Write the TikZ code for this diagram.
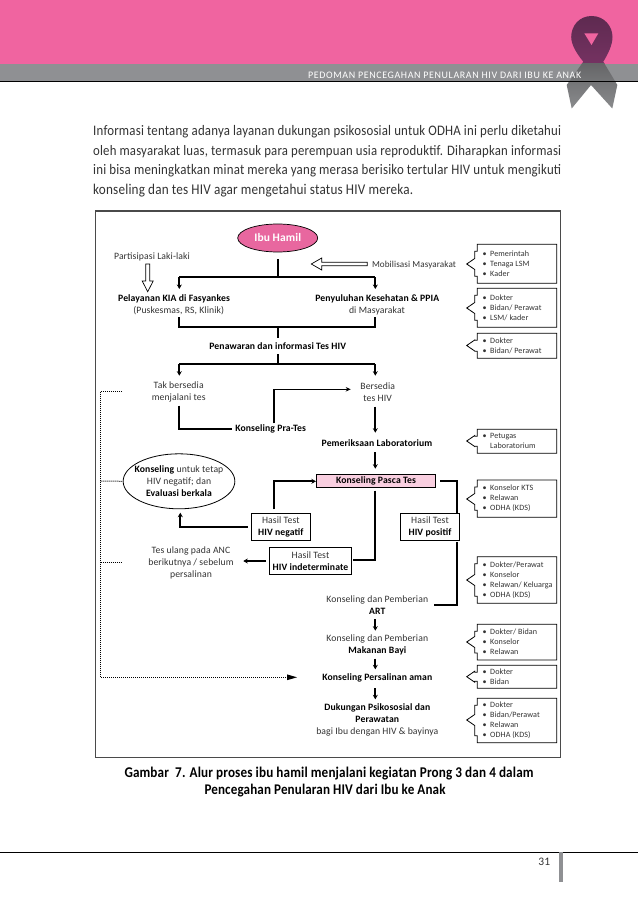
\documentclass[tikz,border=0pt]{standalone}
\usepackage{fontspec}
\usepackage{graphicx}
\setmainfont{Carlito}[LetterSpace=1]
\newfontfamily\parafont{Carlito}[LetterSpace=1.5]
\usetikzlibrary{arrows.meta,shapes.geometric,calc}
\definecolor{ribpink}{HTML}{F064A0}
\definecolor{bargray}{HTML}{8F9093}
\definecolor{ink}{HTML}{333333}
\definecolor{ellpink}{HTML}{E8679F}
\definecolor{boxpink}{HTML}{F9CFE0}
\definecolor{framegray}{HTML}{4A4A4A}
\definecolor{ribA}{HTML}{5E2A50}
\definecolor{ribB}{HTML}{8A3A72}
\definecolor{ribC}{HTML}{3F3F41}
\definecolor{ribD}{HTML}{8A8B8D}
\newcommand{\lab}{\fontsize{9.7}{12}\selectfont}
\newcommand{\side}{\fontsize{8.1}{10}\selectfont}
\newcommand{\fitline}[2]{\scalebox{1}[1.13]{\resizebox{#1}{!}{#2}}}
\tikzset{
  x=1pt,y=-1pt,
  txt/.style={inner sep=0pt,align=center,text=ink,font=\lab},
  btxt/.style={txt,text=black,font=\lab\bfseries},
  conn/.style={line width=1.9pt,draw=black},
  arr/.style={conn,-{Stealth[length=4.5pt,width=5pt]}},
  thin arr/.style={line width=1.6pt,draw=black,-{Stealth[length=5pt,width=4.5pt]}},
  hollow/.style={draw=black,line width=.7pt,fill=white},
  dots/.style={draw=black,line width=1pt,dash pattern=on 1pt off 1pt},
  resbox/.style={draw=black,line width=.8pt,fill=white,inner sep=0pt,align=center,font=\lab},
  sidetxt/.style={inner sep=0pt,align=left,text=ink,font=\side,anchor=west},
  paraline/.style={anchor=west,inner sep=0pt,text=ink},
}
% name, top, bottom, tip y, text
\newcommand{\sidebox}[5]{%
  \draw[black,line width=.8pt,fill=white]
    (556.7,#2) -- (477.3,#2) -- (477.3,#2+7) -- (474.7,#2+7) -- (474.7,#4-5.5) -- (466.7,#4)
    -- (474.7,#4+5.5) -- (474.7,#3-7) -- (477.3,#3-7) -- (477.3,#3) -- (556.7,#3) -- cycle;
  \node[sidetxt] (#1) at (482.5,{(#2+#3)/2}) {#5};
}
\newcommand{\bl}{\makebox[7.5pt][l]{•}}
\begin{document}
\begin{tikzpicture}
\useasboundingbox (0,0) rectangle (638,901);
\fill[white] (0,0) rectangle (638,901);
% header
\fill[ribpink] (0,0) rectangle (638,64);
\fill[bargray] (0,64) rectangle (638,81);
% ribbon
\def\ribbonpath{(591.7,16) .. controls (579,16) and (571.2,26) .. (571.2,37)
    .. controls (571.2,45) and (577,54) .. (583.3,61.7)
    -- (566.7,85) -- (571.7,108.5) -- (591,85) -- (612.3,108.5) -- (617.3,85) -- (603.3,61.7)
    .. controls (608,54) and (612.5,45) .. (612.5,37)
    .. controls (612.5,26) and (604,16) .. (591.7,16) -- cycle}
\begin{scope}
  \clip (550,0) rectangle (630,64);
  \shade[top color=ribA,bottom color=ribB] \ribbonpath;
\end{scope}
\begin{scope}
  \clip (550,64) rectangle (630,120);
  \shade[top color=ribC,bottom color=ribD] \ribbonpath;
\end{scope}
\fill[ribpink] (584.3,33.3) -- (598.3,33.3) -- (591.5,45) -- cycle;
\draw[black,line width=.8pt] (0,81.7) -- (638,81.7);
\node[anchor=west,inner sep=0pt,text=white] (headtxt) at (308,75) {\resizebox{273pt}{!}{\fontsize{9.5}{10}\selectfont\addfontfeatures{LetterSpace=6}PEDOMAN PENCEGAHAN PENULARAN HIV DARI IBU KE ANAK}};
% paragraph
\node[paraline] (p1) at (93,132) {\fitline{468pt}{\fontsize{13}{15}\parafont\selectfont Informasi tentang adanya layanan dukungan psikososial untuk ODHA ini perlu diketahui}};
\node[paraline] (p2) at (93,151.3) {\fitline{468pt}{\fontsize{13}{15}\parafont\selectfont oleh masyarakat luas, termasuk para perempuan usia reproduktif. Diharapkan informasi}};
\node[paraline] (p3) at (93,170.8) {\fitline{468pt}{\fontsize{13}{15}\parafont\selectfont ini bisa meningkatkan minat mereka yang merasa berisiko tertular HIV untuk mengikuti}};
\node[paraline] (p4) at (93,190.2) {\fitline{320pt}{\fontsize{13}{15}\parafont\selectfont konseling dan tes HIV agar mengetahui status HIV mereka.}};
% frame
\draw[framegray,line width=1.2pt] (95.7,211) rectangle (560.7,757.7);
% main nodes
\node[ellipse,draw=black,line width=.7pt,fill=ellpink,minimum width=80pt,minimum height=28pt,inner sep=0pt,text=white,font=\fontsize{11.5}{12}\selectfont\bfseries] (ibu) at (277.7,238) {Ibu Hamil};
\node[txt] (partisipasi) at (152,256.7) {Partisipasi Laki-laki};
\node[txt] (mobilisasi) at (414,265) {\resizebox{84pt}{!}{Mobilisasi Masyarakat}};
\node[btxt] (pelayanan) at (174,298.7) {Pelayanan KIA di Fasyankes};
\node[txt] (puskesmas) at (178.7,311) {(Puskesmas, RS, Klinik)};
\node[btxt] (penyuluhan) at (377.3,298.7) {Penyuluhan Kesehatan \& PPIA};
\node[txt] (dimas) at (377,311) {di Masyarakat};
\node[btxt] (penawaran) at (277.7,345.7) {Penawaran dan informasi Tes HIV};
\node[txt] (tak) at (178.7,391.7) {Tak bersedia\\menjalani tes};
\node[txt] (bersedia) at (377.7,391.7) {Bersedia\\tes HIV};
\node[btxt] (prates) at (270.7,429.3) {Konseling Pra-Tes};
\node[btxt] (lab) at (377,442.7) {Pemeriksaan Laboratorium};
\node[draw=black,line width=.8pt,fill=boxpink,minimum width=119.4pt,minimum height=13.4pt,inner sep=0pt,font=\lab\bfseries] (pasca) at (376,481) {Konseling Pasca Tes};
\node[ellipse,draw=black,line width=.8pt,fill=white,minimum width=111.7pt,minimum height=55pt,inner sep=0pt] (evaluasi) at (179,481.3) {};
\node[txt] (evaluasitxt) at (evaluasi.center) {\textcolor{black}{\bfseries Konseling} untuk tetap\\HIV negatif; dan\\\textcolor{black}{\bfseries Evaluasi berkala}};
\node[resbox,minimum width=59pt,minimum height=27pt] (neg) at (280.8,526.8) {\textcolor{ink}{Hasil Test}\\\bfseries HIV negatif};
\node[resbox,minimum width=59.4pt,minimum height=27pt] (pos) at (430,526.8) {\textcolor{ink}{Hasil Test}\\\bfseries HIV positif};
\node[resbox,minimum width=82.4pt,minimum height=27.4pt] (ind) at (310.5,561) {\textcolor{ink}{Hasil Test}\\\bfseries HIV indeterminate};
\node[txt] (ulang) at (191,562.7) {Tes ulang pada ANC\\berikutnya / sebelum\\persalinan};
\node[txt] (art) at (377.3,605.2) {Konseling dan Pemberian\\\textcolor{black}{\bfseries ART}};
\node[txt] (makanan) at (377.3,644.8) {Konseling dan Pemberian\\\textcolor{black}{\bfseries Makanan Bayi}};
\node[btxt] (persalinan) at (377.3,677.7) {Konseling Persalinan aman};
\node[txt] (dukungan) at (377.3,720.2) {\textcolor{black}{\bfseries Dukungan Psikososial dan}\\\textcolor{black}{\bfseries Perawatan}\\bagi Ibu dengan HIV \& bayinya};
% junctions
\coordinate (j1L) at (179.3,277); \coordinate (j1M) at (277.7,277); \coordinate (j1R) at (375.3,277);
\coordinate (e1L) at (179.3,289); \coordinate (e1R) at (375.3,289);
\coordinate (s0) at (277.7,259.3);
\coordinate (j2aL) at (179.3,317.3); \coordinate (j2bL) at (179.3,327.3); \coordinate (j2M) at (277.7,327.3);
\coordinate (j2aR) at (375.3,317.3); \coordinate (j2bR) at (375.3,327.3);
\coordinate (j2e) at (277.7,337.7); \coordinate (j3s) at (277.7,354);
\coordinate (j3M) at (277.7,364); \coordinate (j3L) at (179.3,364); \coordinate (j3R) at (375.3,364);
\coordinate (e3L) at (179.3,375.7); \coordinate (e3R) at (375.3,375.7);
\coordinate (c0) at (179.3,405.7);
\coordinate (c1) at (179.3,429.3);
\coordinate (c1e) at (231.7,429.3);
\coordinate (c2s) at (273.7,423.3);
\coordinate (c2) at (273.7,389.3);
\coordinate (c2e) at (350.7,389.3);
\coordinate (c2f) at (375.3,406.7);
\coordinate (c2g) at (375.3,432.7);
\coordinate (c2h) at (375.3,452);
\coordinate (c2i) at (375.3,468.7);
\coordinate (c3s) at (273.7,509.3);
\coordinate (c3) at (273.7,481.3);
\coordinate (c4) at (180.3,526.7);
\coordinate (c4e) at (180.3,512.7);
\coordinate (c4s) at (247.7,526.7);
\coordinate (c5s) at (375.3,490.7);
\coordinate (c5) at (375.3,560);
\coordinate (c5e) at (353.3,560);
\coordinate (c6s) at (440,481.3);
\coordinate (c6) at (456.7,481.3);
\coordinate (c6e) at (456.7,512.7);
\coordinate (c7s) at (456.7,542.3);
\coordinate (c7) at (456.7,605);
\coordinate (c7e) at (434.3,605);
\coordinate (u1) at (266,561); \coordinate (u2) at (243.3,561);
\coordinate (m1) at (375.3,619.3); \coordinate (m2) at (375.3,630.7);
\coordinate (m3) at (375.3,658.7); \coordinate (m4) at (375.3,669.3);
\coordinate (m5) at (375.3,688.3); \coordinate (m6) at (375.3,699.3);
% connectors
\draw[conn] (s0) -- (j1M);
\draw[conn] (j1L) -- (j1R);
\draw[arr] (j1L) -- (e1L);
\draw[arr] (j1R) -- (e1R);
\draw[conn] (j2aL) -- (j2bL) -- (j2bR) -- (j2aR);
\draw[conn] (j2M) -- (j2e);
\draw[conn] (j3s) -- (j3M);
\draw[conn] (j3L) -- (j3R);
\draw[arr] (j3L) -- (e3L);
\draw[arr] (j3R) -- (e3R);
\draw[conn] (c0) -- (c1) -- (c1e);
\draw[thin arr] (c2s) -- (c2) -- (c2e);
\draw[arr] (c2f) -- (c2g);
\draw[arr] (c2h) -- (c2i);
\draw[arr] (c3s) -- (c3) -- (pasca.west |- c3);
\draw[arr] (c4s) -- (c4) -- (c4e);
\draw[conn] (c5s) -- (c5) -- (c5e);
\draw[arr] (u1) -- (u2);
\draw[conn] (c6s) -- (c6) -- (c6e);
\draw[conn] (c7s) -- (c7) -- (c7e);
\draw[arr] (m1) -- (m2);
\draw[arr] (m3) -- (m4);
\draw[arr] (m5) -- (m6);
% hollow arrows
\draw[hollow] (145.7,264) -- (149.7,264) -- (149.7,281) -- (153.2,281) -- (147.7,291.7) -- (142.2,281) -- (145.7,281) -- cycle;
\draw[hollow] (367.3,262.3) -- (367.3,265.7) -- (321.7,265.7) -- (321.7,270) -- (311.3,264) -- (321.7,258) -- (321.7,262.3) -- cycle;
% dotted
\coordinate (d1) at (122,391); \coordinate (d2) at (100.7,391); \coordinate (d3) at (100.7,677.3);
\coordinate (d4) at (121,562.7); \coordinate (d5) at (100.7,481); \coordinate (d6) at (100.7,562.7);
\coordinate (dend) at (289,677.3);
\draw[dots] (d1) -- (d2) -- (d3) -- (dend);
\draw[dots] (d5) -- (evaluasi.west);
\draw[dots] (d6) -- (d4);
\fill[black] (287,674.4) -- (297,677.3) -- (287,680.2) -- cycle;
% side boxes
\sidebox{s1}{244.3}{283.3}{264}{\bl Pemerintah\\\bl Tenaga LSM\\\bl Kader}
\sidebox{s2}{288.3}{327.3}{308}{\bl Dokter\\\bl Bidan/ Perawat\\\bl LSM/ kader}
\sidebox{s3}{333.3}{358.3}{345.5}{\bl Dokter\\\bl Bidan/ Perawat}
\sidebox{s4}{429.3}{453.3}{441}{\bl Petugas\\\hspace*{7.5pt}Laboratorium}
\sidebox{s5}{480}{517.3}{499}{\bl Konselor KTS\\\bl Relawan\\\bl ODHA (KDS)}
\sidebox{s6}{556.7}{603.3}{580}{\bl Dokter/Perawat\\\bl Konselor\\\bl Relawan/ Keluarga\\\bl ODHA (KDS)}
\sidebox{s7}{624.3}{660}{642}{\bl Dokter/ Bidan\\\bl Konselor\\\bl Relawan}
\sidebox{s8}{665.3}{688.3}{676.7}{\bl Dokter\\\bl Bidan}
\sidebox{s9}{698.3}{742.7}{720}{\bl Dokter\\\bl Bidan/Perawat\\\bl Relawan\\\bl ODHA (KDS)}
% caption
\node[inner sep=0pt,anchor=west,text=black] (cap1) at (124.3,773.3) {\fitline{409pt}{\fontsize{12.5}{15}\selectfont\bfseries Gambar\ \ 7. Alur proses ibu hamil menjalani kegiatan Prong 3 dan 4 dalam}};
\node[inner sep=0pt,text=black] (cap2) at (325,791) {\fitline{241pt}{\fontsize{12.5}{15}\selectfont\bfseries Pencegahan Penularan HIV dari Ibu ke Anak}};
% footer
\draw[black,line width=.8pt] (0,852.7) -- (638,852.7);
\fill[bargray] (559.3,852) rectangle (563,881.7);
\node[inner sep=0pt,text=ink,font=\fontsize{11.5}{12}\selectfont] (pageno) at (544.3,861.7) {31};
\end{tikzpicture}
\end{document}
